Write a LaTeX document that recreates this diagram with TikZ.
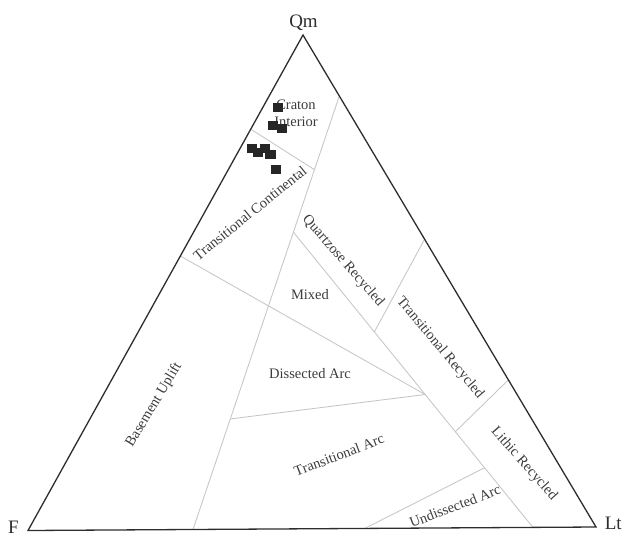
\documentclass[tikz,border=0pt]{standalone}
\usepackage{fontspec}
\setmainfont{Liberation Serif}
\usepackage{tikz}
\usetikzlibrary{calc}
\definecolor{rimgray}{RGB}{45,45,45}
\definecolor{fieldgray}{RGB}{200,200,200}
\definecolor{inkgray}{RGB}{60,60,60}
\newcommand{\fieldfont}{\fontsize{14.5}{17}\selectfont}
\newcommand{\polefont}{\fontsize{19}{22}\selectfont}
\tikzset{
  rim/.style={draw=rimgray, line width=1.3pt, line join=miter},
  field/.style={draw=fieldgray, line width=0.9pt},
  region/.style={font=\fieldfont, text=inkgray, inner sep=0pt, align=center},
  pole/.style={font=\polefont, text=rimgray, inner sep=0pt, anchor=base},
  sample/.style={rectangle, fill=black!85, minimum width=10.5pt, minimum height=9pt, inner sep=0pt},
}

\begin{document}
\begin{tikzpicture}[x=1pt, y=-1pt]
    \useasboundingbox (0,0) rectangle (629,536);

    % corners of the QmFLt triangle
    \coordinate (Qm) at (303,35);
    \coordinate (F)  at (28,530.5);
    \coordinate (Lt) at (596,527);

    % points on the sides
    \coordinate (qa)  at ($(Qm)!0.124!(Lt)$);
    \coordinate (qd)  at ($(Qm)!0.415!(Lt)$);
    \coordinate (qe)  at ($(Qm)!0.701!(Lt)$);
    \coordinate (ql1) at ($(Qm)!0.19!(F)$);
    \coordinate (ql2) at ($(Qm)!0.446!(F)$);
    \coordinate (ba)  at ($(F)!0.2905!(Lt)$);
    \coordinate (bg)  at ($(F)!0.593!(Lt)$);
    \coordinate (bc)  at ($(F)!0.889!(Lt)$);

    % points inside
    \coordinate (k1) at ($(qa)!0.17!(ba)$);
    \coordinate (c1) at ($(qa)!0.314!(ba)$);
    \coordinate (f1) at ($(qa)!0.745!(ba)$);
    \coordinate (P)  at ($(c1)!0.55!(bc)$);
    \coordinate (d1) at ($(c1)!0.338!(bc)$);
    \coordinate (e1) at ($(c1)!0.676!(bc)$);
    \coordinate (g1) at ($(c1)!0.798!(bc)$);

    % field boundaries
    \draw[field] (qa) -- (ba);
    \draw[field] (c1) -- (bc);
    \draw[field] (ql1) -- (k1);
    \draw[field] (ql2) -- (P);
    \draw[field] (f1) -- (P);
    \draw[field] (qd) -- (d1);
    \draw[field] (qe) -- (e1);
    \draw[field] (g1) -- (bg);

    % triangle
    \draw[rim] (Qm) -- (F) -- (Lt) -- cycle;

    % poles
    \node[pole] (lqm) at (303.5,27) {Qm};
    \node[pole] (lf)  at (13.3,533) {F};
    \node[pole] (llt) at (613.3,529) {Lt};

    % field names
    \node[region] (craton) at (296,113) {Craton\\Interior};
    \node[region, rotate=39] (tcont) at (250,213) {Transitional Continental};
    \node[region, rotate=-49] (qrec) at (343,261) {Quartzose Recycled};
    \node[region] (mixed) at (310,295) {Mixed};
    \node[region, rotate=-50] (trec) at (440,348) {Transitional Recycled};
    \node[region] (darc) at (310,374) {Dissected Arc};
    \node[region, rotate=59] (buplift) at (154,405) {Basement Uplift};
    \node[region, rotate=21] (tarc) at (339,455) {Transitional Arc};
    \node[region, rotate=-48.5] (lrec) at (524,464) {Lithic Recycled};
    \node[region, rotate=21] (uarc) at (455,506) {Undissected Arc};

    % samples
    \foreach \x/\y [count=\i] in {278/107.5, 273/125, 282/128.5, 252/148,
                                  258/152, 265/148, 270.5/154, 276/169.5}
      \node[sample] (s\i) at (\x,\y) {};
\end{tikzpicture}
\end{document}
